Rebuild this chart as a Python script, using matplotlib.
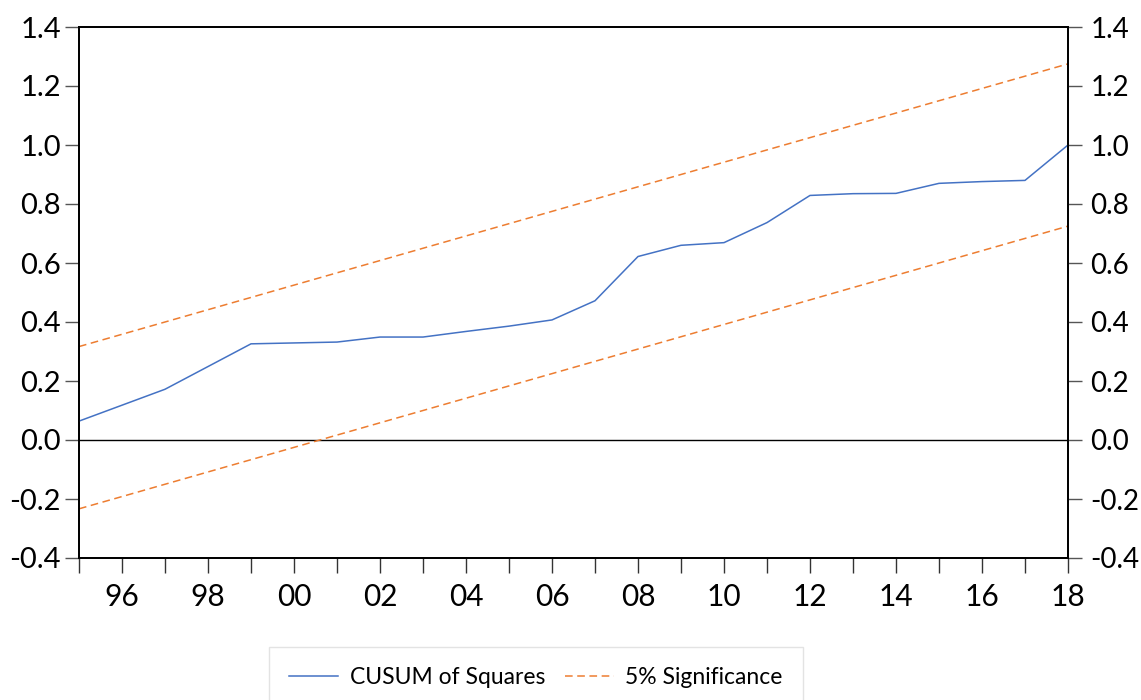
import matplotlib
matplotlib.use("Agg")
import matplotlib.pyplot as plt
from matplotlib.ticker import MultipleLocator, FixedLocator, FuncFormatter

plt.rcParams['font.family'] = ['Lato', 'DejaVu Sans']
plt.rcParams['axes.unicode_minus'] = False

years = list(range(1995, 2019))
cusum_sq = [0.064, 0.118, 0.172, 0.249, 0.326, 0.329, 0.332, 0.349, 0.349,
            0.368, 0.386, 0.407, 0.472, 0.622, 0.660, 0.669, 0.737, 0.829,
            0.835, 0.836, 0.870, 0.876, 0.880, 1.000]
upper_5pct = [0.3167, 0.3583, 0.4000, 0.4417, 0.4833, 0.5250, 0.5667, 0.6083,
              0.6500, 0.6917, 0.7333, 0.7750, 0.8167, 0.8583, 0.9000, 0.9417,
              0.9833, 1.0250, 1.0667, 1.1083, 1.1500, 1.1917, 1.2333, 1.2750]
lower_5pct = [-0.2333, -0.1917, -0.1500, -0.1083, -0.0667, -0.0250, 0.0167,
              0.0583, 0.1000, 0.1417, 0.1833, 0.2250, 0.2667, 0.3083, 0.3500,
              0.3917, 0.4333, 0.4750, 0.5167, 0.5583, 0.6000, 0.6417, 0.6833,
              0.7250]
label_years = list(range(1996, 2019, 2))

BLUE = '#4472C4'
ORANGE = '#ED7D31'


def fmt_value(v, pos):
    return f"{v:.1f}".replace('\u2212', '-')


fig = plt.figure(figsize=(11.41, 7.00), dpi=100)
ax = fig.add_axes([79 / 1141, 142 / 700, 989 / 1141, 531 / 700])

ax.axhline(0.0, color='black', lw=1.0, zorder=1)
l1, = ax.plot(years, cusum_sq, color=BLUE, lw=1.1, label='CUSUM of Squares', zorder=3)
l2, = ax.plot(years, upper_5pct, color=ORANGE, lw=1.1, dashes=(5, 3),
              label='5% Significance', zorder=2)
ax.plot(years, lower_5pct, color=ORANGE, lw=1.1, dashes=(5, 3), zorder=2)

ax.set_xlim(1995, 2018)
ax.set_ylim(-0.4, 1.4)
ax.yaxis.set_major_locator(MultipleLocator(0.2))
ax.yaxis.set_major_formatter(FuncFormatter(fmt_value))
ax.xaxis.set_major_locator(FixedLocator(years))
ax.set_xticklabels(['%02d' % (y % 100) if y in label_years else '' for y in years])

# mirrored value axis on the right
ax_r = ax.twinx()
ax_r.set_ylim(ax.get_ylim())
ax_r.yaxis.set_major_locator(MultipleLocator(0.2))
ax_r.yaxis.set_major_formatter(FuncFormatter(fmt_value))

for a in (ax, ax_r):
    for s in a.spines.values():
        s.set_linewidth(1.3)
        s.set_color('black')

ax.tick_params(axis='y', direction='out', length=10, width=1.0,
               color='#555555', labelsize=21, pad=3)
ax_r.tick_params(axis='y', direction='out', length=10, width=1.0,
                 color='#555555', labelsize=20, pad=6)
ax.tick_params(axis='x', direction='out', length=11, width=1.0, color='#333333',
               labelsize=21.5, pad=7)

leg = fig.legend(handles=[l1, l2], loc='center', ncol=2,
                 bbox_to_anchor=(536 / 1141, 22 / 700), fontsize=16.5,
                 frameon=True, fancybox=False, edgecolor='#dddddd',
                 handlelength=2.15, handletextpad=0.5, columnspacing=0.85,
                 borderpad=0.9, borderaxespad=0)
leg.get_frame().set_linewidth(1.0)

fig.savefig('out.png', dpi=100, facecolor='white')
